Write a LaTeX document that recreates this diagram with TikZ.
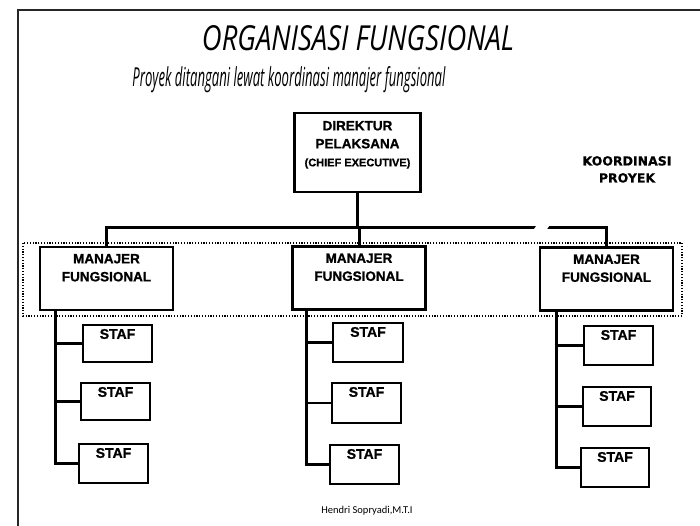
\documentclass[tikz,border=0pt]{standalone}
\usepackage{fontspec}
\setmainfont{Liberation Sans}[BoldFeatures={FakeBold=0.9}]
\newfontfamily\koordfont{DejaVu Sans}[BoldFeatures={FakeBold=0.5}]
\newfontfamily\footfont{Carlito}
\newfontfamily\handfont{Open Sans}
\begin{document}
\begin{tikzpicture}[x=1pt,y=-1pt,
  box/.style={draw, line width=2.3pt, fill=white, inner sep=0pt, rectangle},
  mgrbox/.style={box, minimum width=133pt, minimum height=63pt},
  stafbox/.style={box, minimum width=69pt, minimum height=38pt},
  boxtext/.style={font=\fontsize{13.5}{18}\selectfont\bfseries, align=center, inner sep=0pt, anchor=north},
  wire/.style={line width=3pt},
  twig/.style={line width=2.4pt},
  coord/.style={line width=1.2pt, dash pattern=on 1.2pt off 1.6pt},
]
\useasboundingbox (0,0) rectangle (700,526);

% page frame
\draw[line width=2.5pt, black!85] (18,540) -- (18,10) -- (710,10);

% headings
\node[anchor=base, inner sep=0pt] (title) at (358,50.5)
  {\resizebox{312pt}{25pt}{\handfont\itshape ORGANISASI FUNGSIONAL}};
\node[anchor=base, inner sep=0pt] (subtitle) at (289,87)
  {\resizebox{313pt}{20pt}{\handfont\itshape Proyek ditangani lewat koordinasi manajer fungsional}};

% coordination band around the functional managers
\draw[coord] (23,243) rectangle (682,316);

% executive
\node[box, minimum width=126pt, minimum height=79pt] (dir) at (357.5,152.5) {};
\node[boxtext, yshift=-9pt] (dirtext) at (dir.north)
  {DIREKTUR\\PELAKSANA\\{\fontsize{11}{16}\selectfont (CHIEF EXECUTIVE)}};

\node[font=\koordfont\bfseries\fontsize{12.5}{17}\selectfont, align=center,
      inner sep=0pt, anchor=north] (koord) at (627,156) {KOORDINASI\\PROYEK};

% functional managers
\node[mgrbox] (mgr1) at (106.5,278.5) {};
\node[mgrbox] (mgr2) at (359,278) {};
\node[mgrbox] (mgr3) at (606.5,279) {};
\foreach \m in {mgr1,mgr2,mgr3}
  \node[boxtext, yshift=-8pt] (\m text) at (\m.north) {MANAJER\\FUNGSIONAL};

% staff
\node[stafbox, minimum height=37pt] (s11) at (117.5,343.5) {};
\node[stafbox, minimum height=37pt] (s12) at (115.5,401.5) {};
\node[stafbox, minimum height=39pt] (s13) at (113.5,463.5) {};
\node[stafbox, minimum width=70pt, minimum height=39pt] (s21) at (368,342.5) {};
\node[stafbox, minimum height=40pt] (s22) at (366.5,403) {};
\node[stafbox, minimum height=39pt] (s23) at (364.5,464.5) {};
\node[stafbox, minimum height=39pt] (s31) at (618.5,345.5) {};
\node[stafbox, minimum width=68pt, minimum height=39pt] (s32) at (617,406.5) {};
\node[stafbox, minimum width=68pt, minimum height=39pt] (s33) at (615,467.5) {};
\foreach \s in {s11,s12,s13,s21,s22,s23,s31,s32,s33}
  \node[boxtext, font=\fontsize{14}{18}\selectfont\bfseries, yshift=-5pt] (\s text) at (\s.north) {STAF};

% command lines
\coordinate (bus) at (0,228);
\draw[wire] (dir.south) -- (dir.south |- bus);
\draw[wire] (mgr1.north) |- (bus -| mgr3.north) -- (mgr3.north);
\draw[wire] (mgr2.north) -- (mgr2.north |- bus);
\fill[white] (532.5,231.2) -- (537,224.8) -- (550,224.8) -- (545.5,231.2) -- cycle;

% staff spines
\coordinate (sp1) at (55,0);
\coordinate (sp2) at (306,0);
\coordinate (sp3) at (556,0);
\draw[wire] (sp1 |- mgr1.south) -- (sp1 |- s13.west);
\draw[wire] (sp2 |- mgr2.south) -- (sp2 |- s23.west);
\draw[wire] (sp3 |- mgr3.south) -- (sp3 |- s33.west);
\foreach \c/\s in {1/s11,1/s12,1/s13,2/s21,2/s22,2/s23,3/s31,3/s32,3/s33}
  \draw[twig] ([xshift=-1.5pt]sp\c |- \s.west) -- (\s.west);

% author
\node[font=\footfont\fontsize{10.5}{12}\selectfont, anchor=base, inner sep=0pt]
  (author) at (367,513) {Hendri Sopryadi,M.T.I};
\end{tikzpicture}
\end{document}
